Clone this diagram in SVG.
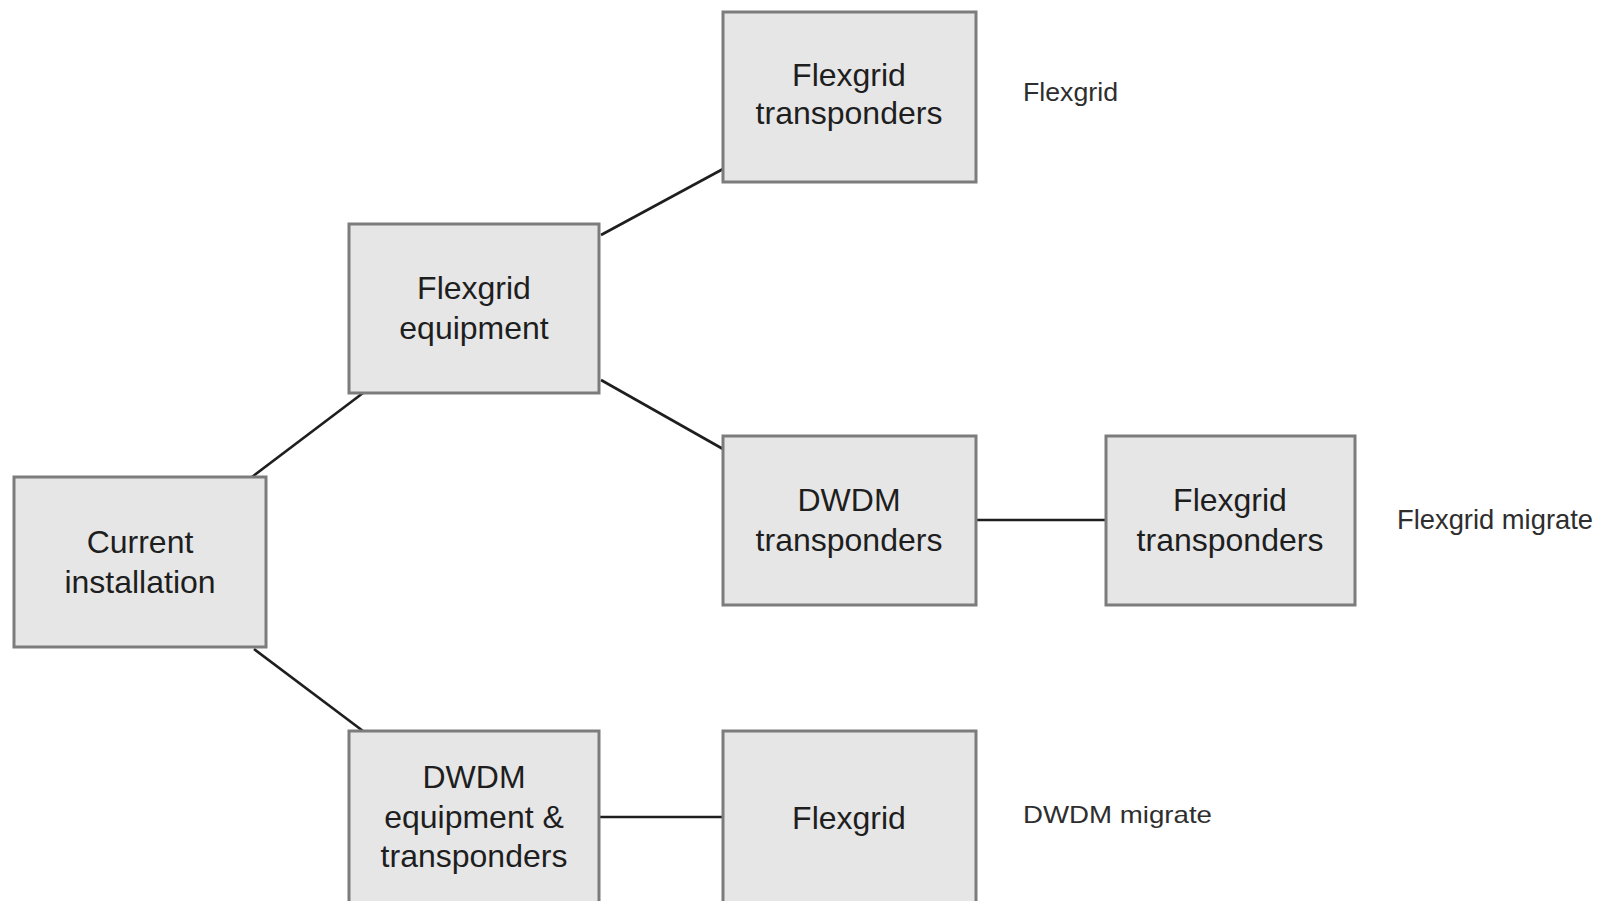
<svg xmlns="http://www.w3.org/2000/svg" width="1606" height="901" viewBox="0 0 1606 901">
<style>
.box{fill:#e6e6e6;stroke:#7c7c7c;stroke-width:3}
.t{font-family:"Liberation Sans",Arial,sans-serif;font-size:32px;fill:#1e1e1e;text-anchor:middle}
.lbl{font-family:"Liberation Sans",Arial,sans-serif;fill:#2e2e2e}
.c{stroke:#1e1e1e;stroke-width:2.6;fill:none}
</style>
<rect width="1606" height="901" fill="#ffffff"/>
<g id="connectors">
<line class="c" x1="252" y1="477" x2="363" y2="393"/>
<line class="c" x1="601" y1="235" x2="723" y2="169"/>
<line class="c" x1="601" y1="380" x2="723" y2="449"/>
<line class="c" x1="254" y1="649" x2="363" y2="731"/>
<line class="c" x1="976" y1="520" x2="1106" y2="520"/>
<line class="c" x1="599" y1="817" x2="723" y2="817"/>
</g>
<g id="current">
<rect class="box" x="14" y="477" width="252" height="170"/>
<text class="t" x="140" y="553">Current</text>
<text class="t" x="140" y="593">installation</text>
</g>
<g id="flexgrid-equipment">
<rect class="box" x="349" y="224" width="250" height="169"/>
<text class="t" x="474" y="299">Flexgrid</text>
<text class="t" x="474" y="339">equipment</text>
</g>
<g id="flexgrid-transponders-top">
<rect class="box" x="723" y="12" width="253" height="170"/>
<text class="t" x="849" y="86">Flexgrid</text>
<text class="t" x="849" y="124">transponders</text>
</g>
<g id="dwdm-transponders">
<rect class="box" x="723" y="436" width="253" height="169"/>
<text class="t" x="849" y="511">DWDM</text>
<text class="t" x="849" y="551">transponders</text>
</g>
<g id="flexgrid-transponders-right">
<rect class="box" x="1106" y="436" width="249" height="169"/>
<text class="t" x="1230" y="511">Flexgrid</text>
<text class="t" x="1230" y="551">transponders</text>
</g>
<g id="dwdm-equipment">
<rect class="box" x="349" y="731" width="250" height="190"/>
<text class="t" x="474" y="788">DWDM</text>
<text class="t" x="474" y="828">equipment &amp;</text>
<text class="t" x="474" y="867">transponders</text>
</g>
<g id="flexgrid-bottom">
<rect class="box" x="723" y="731" width="253" height="190"/>
<text class="t" x="849" y="829">Flexgrid</text>
</g>
<g id="labels">
<text class="lbl" x="1023" y="101" font-size="26" textLength="95" lengthAdjust="spacingAndGlyphs">Flexgrid</text>
<text class="lbl" x="1397" y="529" font-size="28" textLength="196" lengthAdjust="spacingAndGlyphs">Flexgrid migrate</text>
<text class="lbl" x="1023" y="823" font-size="24" textLength="189" lengthAdjust="spacingAndGlyphs">DWDM migrate</text>
</g>
</svg>
